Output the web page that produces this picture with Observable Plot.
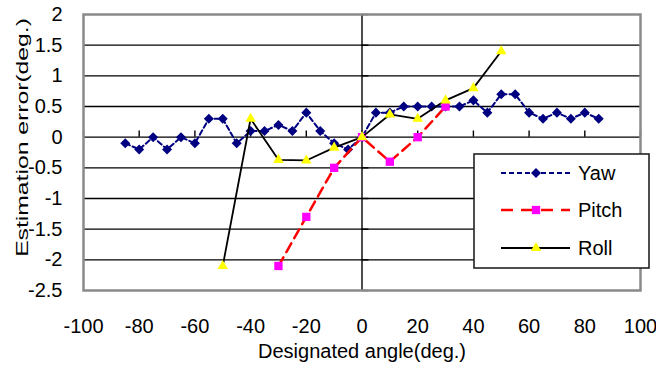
<!DOCTYPE html>
<html>
<head>
<meta charset="utf-8">
<script src="https://cdn.jsdelivr.net/npm/d3@7"></script>
<script src="https://cdn.jsdelivr.net/npm/@observablehq/plot@0.6"></script>
<style>
  html, body { margin: 0; padding: 0; background: #fff; }
  #wrap { position: relative; width: 656px; height: 369px; overflow: hidden; }
  #legend { position: absolute; left: 473px; top: 153px; }
</style>
</head>
<body>
<div id="wrap"></div>
<script>
// ---- data ----
const yawAngle = [-85,-80,-75,-70,-65,-60,-55,-50,-45,-40,-35,-30,-25,-20,-15,-10,-5,0,5,10,15,20,25,30,35,40,45,50,55,60,65,70,75,80,85];
const yawError = [-0.1,-0.2,0,-0.2,0,-0.1,0.3,0.3,-0.1,0.1,0.1,0.2,0.1,0.4,0.1,-0.1,-0.2,0,0.4,0.4,0.5,0.5,0.5,0.5,0.5,0.6,0.4,0.7,0.7,0.4,0.3,0.4,0.3,0.4,0.3];
const pitchAngle = [-30,-20,-10,0,10,20,30];
const pitchError = [-2.1,-1.3,-0.5,0,-0.4,0,0.5];
const rollAngle = [-50,-40,-30,-20,-10,0,10,20,30,40,50];
const rollError = [-2.1,0.3,-0.37,-0.38,-0.17,0,0.37,0.3,0.6,0.8,1.4];
const xTicks = [-100,-80,-60,-40,-20,0,20,40,60,80,100];
const yTicks = [-2.5,-2,-1.5,-1,-0.5,0,0.5,1,1.5,2];
const gridY = [-2,-1.5,-1,-0.5,0,0.5,1,1.5];
const seriesNames = ["Yaw","Pitch","Roll"];
const xLabel = "Designated angle(deg.)";
const yLabel = "Estimation error(deg.)";

const toRows = (xs, ys) => xs.map((x, i) => ({x, y: ys[i]}));
const yaw = toRows(yawAngle, yawError);
const pitch = toRows(pitchAngle, pitchError);
const roll = toRows(rollAngle, rollError);

const diamond = { draw(ctx, size) { const h = Math.sqrt(size / 2); ctx.moveTo(0,-h); ctx.lineTo(h,0); ctx.lineTo(0,h); ctx.lineTo(-h,0); ctx.closePath(); } };

const styles = {
  Yaw:   {stroke: "#000080", width: 2,   dash: "5,3",  fill: "#000080", symbol: diamond, r: 4},
  Pitch: {stroke: "#ff0000", width: 2.5, dash: "10,6", fill: "#ff00ff", symbol: d3.symbolSquare, r: 4.7},
  Roll:  {stroke: "#000000", width: 1.8, dash: null,   fill: "#ffff00", symbol: d3.symbolTriangle, r: 3.9}
};

function seriesMarks(data, s) {
  return [
    Plot.line(data, {x: "x", y: "y", stroke: s.stroke, strokeWidth: s.width, strokeDasharray: s.dash || undefined, strokeLinejoin: "miter"}),
    Plot.dot(data, {x: "x", y: "y", symbol: s.symbol, r: s.r, fill: s.fill, stroke: "none"})
  ];
}

const chart = Plot.plot({
  width: 656,
  height: 369,
  marginLeft: 83,
  marginRight: 16,
  marginTop: 14,
  marginBottom: 79,
  style: {fontFamily: "'Liberation Sans', Arial, sans-serif", fontSize: "20px", color: "#000", background: "#fff"},
  x: {domain: [-100, 100]},
  y: {domain: [-2.5, 2]},
  marks: [
    Plot.ruleY(gridY, {y: d => d, stroke: "#000", strokeWidth: 1.4}),
    Plot.ruleX([0], {x: d => d, stroke: "#000", strokeWidth: 1.4}),
    Plot.ruleX(xTicks, {x: d => d, y1: 0, y2: 0.1, stroke: "#000", strokeWidth: 1.4}),
    Plot.ruleY(yTicks, {y: d => d, x1: 0, x2: 2.5, stroke: "#000", strokeWidth: 1.4}),
    Plot.frame({stroke: "#8a8a8a", strokeWidth: 2.5}),
    Plot.axisX({ticks: xTicks, tickSize: 0, tickPadding: 28, tickFormat: d => String(d), label: null}),
    Plot.axisY({ticks: yTicks, tickSize: 0, tickPadding: 21, tickFormat: d => String(d), label: null}),
    ...seriesMarks(yaw, styles.Yaw),
    ...seriesMarks(pitch, styles.Pitch),
    ...seriesMarks(roll, styles.Roll),
    Plot.text([yLabel], {text: d => d, frameAnchor: "left", textAnchor: "middle", lineAnchor: "middle", dx: -61, dy: -15, rotate: -90, fontSize: 16, fill: "#000", stroke: "white", strokeWidth: 3}),
    Plot.text([xLabel], {text: d => d, frameAnchor: "bottom", textAnchor: "middle", dy: 67, fontSize: 20, fill: "#000"})
  ]
});

const wrap = document.getElementById("wrap");
wrap.appendChild(chart);

// stretch rotated y label along its length as in the reference
d3.select(chart).selectAll("text").filter(function() { return this.textContent === yLabel; })
  .each(function() {
    const t = this.getAttribute("transform") || "";
    const len = this.getComputedTextLength();
    const k = len > 0 ? 239 / len : 1.5;
    this.setAttribute("transform", t + ` scale(${k},1)`);
  });

// ---- legend ----
const lw = 177, lh = 116;
const leg = d3.create("svg").attr("id", "legend").attr("width", lw).attr("height", lh)
  .style("font-family", "'Liberation Sans', Arial, sans-serif");
leg.append("rect").attr("x", 1).attr("y", 1).attr("width", lw - 2).attr("height", lh - 2)
  .attr("fill", "#fff").attr("stroke", "#222").attr("stroke-width", 1.6);
const rowsY = [20, 57, 95];
seriesNames.forEach((name, i) => {
  const s = styles[name];
  const g = leg.append("g").attr("transform", `translate(0,${rowsY[i]})`);
  g.append("line").attr("x1", 28).attr("x2", 97).attr("y1", 0).attr("y2", 0)
    .attr("stroke", s.stroke).attr("stroke-width", s.width)
    .attr("stroke-dasharray", s.dash ? (name === "Pitch" ? "12,8" : "5,3") : null);
  g.append("path").attr("transform", "translate(63,0)")
    .attr("d", d3.symbol(s.symbol, Math.PI * s.r * s.r)())
    .attr("fill", s.fill);
  g.append("text").attr("x", 105).attr("y", 0).attr("dy", "0.35em")
    .attr("font-size", 20).attr("fill", "#000").text(name);
});
wrap.appendChild(leg.node());
</script>
</body>
</html>
